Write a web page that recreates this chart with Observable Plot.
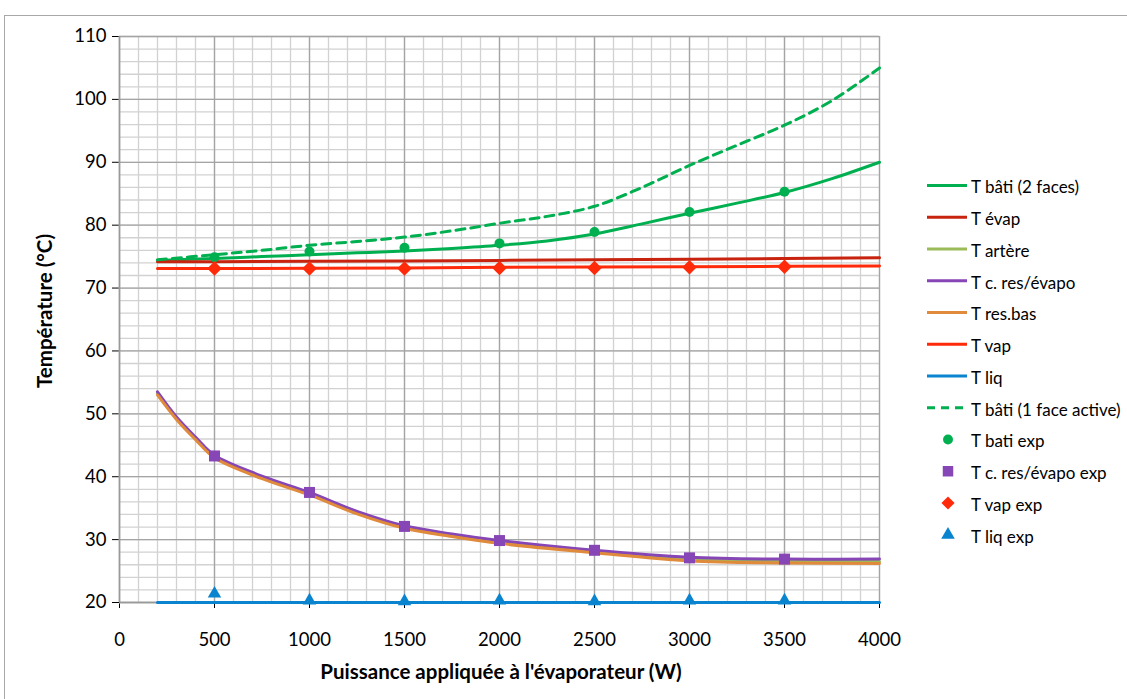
<!DOCTYPE html>
<html>
<head>
<meta charset="utf-8">
<script src="https://cdn.jsdelivr.net/npm/d3@7"></script>
<script src="https://cdn.jsdelivr.net/npm/@observablehq/plot@0.6"></script>
<style>
  html, body { margin: 0; padding: 0; background: #fff; overflow: hidden; }
  #wrap { position: relative; width: 1127px; height: 699px; font-family: Lato, "Open Sans", sans-serif; }
  #frame { position: absolute; left: 4px; top: 15px; width: 1200px; height: 800px; border: 1.5px solid #a8a8a8; pointer-events: none; }
  #chart { position: absolute; left: 0; top: 0; }
  #legend { position: absolute; left: 0; top: 0; pointer-events: none; }
  .ytitle { position: absolute; left: 44px; top: 311px; transform: translate(-50%, -50%) rotate(-90deg); font-weight: bold; font-size: 20.5px; white-space: nowrap; line-height: 1; }
  .xtitle { position: absolute; left: 501px; top: 671px; transform: translate(-50%, -50%); font-weight: bold; font-size: 20.5px; white-space: nowrap; line-height: 1; }
</style>
</head>
<body>
<div id="wrap">
  <div id="chart"></div>
  <svg id="legend" width="1127" height="699"></svg>
  <div class="ytitle">Température (°C)</div>
  <div class="xtitle">Puissance appliquée à l'évaporateur (W)</div>
  <div id="frame"></div>
</div>
<script>
// ---- Data ----
const xTicks = [0, 500, 1000, 1500, 2000, 2500, 3000, 3500, 4000];
const yTicks = [20, 30, 40, 50, 60, 70, 80, 90, 100, 110];

// bâti model curves
const powerBati = [200, 500, 750, 1000, 1250, 1500, 1750, 2000, 2250, 2500, 2750, 3000, 3250, 3500, 3750, 4000];
const tBati2 = [74.4, 74.7, 75.0, 75.3, 75.6, 75.9, 76.3, 76.8, 77.5, 78.6, 80.2, 81.9, 83.5, 85.2, 87.4, 90.0];
const tBati1 = [74.5, 75.3, 76.0, 76.8, 77.4, 78.1, 79.1, 80.3, 81.4, 83.0, 86.0, 89.5, 92.7, 95.9, 99.8, 105.0];

// flat model curves
const powerFlat = [200, 500, 1000, 1500, 2000, 2500, 3000, 3500, 4000];
const tEvap = [74.2, 74.2, 74.25, 74.3, 74.4, 74.5, 74.6, 74.7, 74.8];
const tVap = [73.1, 73.1, 73.15, 73.2, 73.3, 73.35, 73.4, 73.45, 73.5];
const tLiq = [20.0, 20.0, 20.0, 20.0, 20.0, 20.0, 20.0, 20.0, 20.0];

// lower model curves
const powerLow = [200, 300, 400, 500, 750, 1000, 1250, 1500, 1750, 2000, 2500, 3000, 3500, 4000];
const tCres = [53.5, 49.5, 46.3, 43.4, 40.1, 37.5, 34.5, 32.2, 30.9, 29.85, 28.3, 27.2, 26.9, 26.9];
const tArtere = [53.2, 49.3, 46.1, 43.2, 39.9, 37.3, 34.3, 32.0, 30.7, 29.6, 28.1, 26.9, 26.6, 26.5];
const tResBas = [53.0, 49.1, 45.9, 43.0, 39.7, 37.1, 34.1, 31.8, 30.5, 29.4, 27.9, 26.6, 26.3, 26.2];

// experimental points
const powerExp = [500, 1000, 1500, 2000, 2500, 3000, 3500];
const batiExp = [74.9, 75.8, 76.4, 77.1, 78.9, 82.1, 85.3];
const cresExp = [43.3, 37.5, 32.1, 29.85, 28.3, 27.1, 26.9];
const vapExp = [73.1, 73.1, 73.1, 73.2, 73.2, 73.3, 73.4];
const liqExp = [21.4, 20.3, 20.2, 20.3, 20.2, 20.3, 20.3];

const C = {
  bati: "#00b050", evap: "#c8230f", artere: "#9bbb59", cres: "#8646b6",
  resbas: "#e08a3c", vap: "#ff2a0a", liq: "#0a84cf"
};

// ---- Build tables ----
const toRows = (xs, ys) => xs.map((x, i) => ({x, y: ys[i]}));
const minorX = d3.range(0, 4001, 100);
const minorY = d3.range(20, 110.001, 2);

const lineOpts = (color, extra = {}) => Object.assign({x: "x", y: "y", stroke: color, strokeWidth: 3, curve: "catmull-rom"}, extra);

const chart = Plot.plot({
  width: 1127,
  height: 699,
  marginLeft: 119,
  marginRight: 248,
  marginTop: 36,
  marginBottom: 97,
  style: {fontFamily: "Lato, 'Open Sans', sans-serif", fontSize: "18.5px", color: "#000", background: "transparent", overflow: "visible"},
  x: {domain: [0, 4000], ticks: xTicks, tickFormat: d => String(d), tickSize: 6, tickPadding: 24, label: null},
  y: {domain: [20, 110], ticks: yTicks, tickSize: 7, tickPadding: 6, label: null},
  marks: [
    Plot.ruleX(minorX, {stroke: "#d2d2d2", strokeWidth: 1.3}),
    Plot.ruleY(minorY, {stroke: "#d2d2d2", strokeWidth: 1.3}),
    Plot.ruleX(xTicks, {stroke: "#a4a4a4", strokeWidth: 1.3}),
    Plot.ruleY(yTicks, {stroke: "#a4a4a4", strokeWidth: 1.3}),
    Plot.ruleX([0], {stroke: "#999", strokeWidth: 1.5}),
    Plot.ruleY([20], {stroke: "#999", strokeWidth: 1.5}),
    Plot.line(toRows(powerBati, tBati2), lineOpts(C.bati)),
    Plot.line(toRows(powerFlat, tEvap), lineOpts(C.evap, {curve: "linear"})),
    Plot.line(toRows(powerLow, tArtere), lineOpts(C.artere)),
    Plot.line(toRows(powerLow, tCres), lineOpts(C.cres)),
    Plot.line(toRows(powerLow, tResBas), lineOpts(C.resbas)),
    Plot.line(toRows(powerFlat, tVap), lineOpts(C.vap, {curve: "linear"})),
    Plot.line(toRows(powerFlat, tLiq), lineOpts(C.liq, {curve: "linear"})),
    Plot.line(toRows(powerBati, tBati1), lineOpts(C.bati, {strokeDasharray: "9,6"})),
    Plot.dot(toRows(powerExp, batiExp), {x: "x", y: "y", r: 5, symbol: "circle", fill: C.bati}),
    Plot.dot(toRows(powerExp, cresExp), {x: "x", y: "y", r: 6.2, symbol: "square", fill: C.cres}),
    Plot.dot(toRows(powerExp, vapExp), {x: "x", y: "y", r: 6.5, symbol: "diamond2", fill: C.vap}),
    Plot.dot(toRows(powerExp, liqExp), {x: "x", y: "y", r: 5, symbol: "triangle", fill: C.liq})
  ]
});
document.getElementById("chart").appendChild(chart);

// ---- Legend ----
const legendItems = [
  {label: "T bâti (2 faces)", type: "line", color: C.bati},
  {label: "T évap", type: "line", color: C.evap},
  {label: "T artère", type: "line", color: C.artere},
  {label: "T c. res/évapo", type: "line", color: C.cres},
  {label: "T res.bas", type: "line", color: C.resbas},
  {label: "T vap", type: "line", color: C.vap},
  {label: "T liq", type: "line", color: C.liq},
  {label: "T bâti (1 face active)", type: "dash", color: C.bati},
  {label: "T bati exp", type: d3.symbolCircle, color: C.bati, size: 78},
  {label: "T c. res/évapo exp", type: d3.symbolSquare, color: C.cres, size: 110},
  {label: "T vap exp", type: d3.symbolDiamond2, color: C.vap, size: 110},
  {label: "T liq exp", type: d3.symbolTriangle, color: C.liq, size: 80}
];
const lg = d3.select("#legend");
legendItems.forEach((it, i) => {
  const cy = 185.5 + i * 31.75;
  if (it.type === "line" || it.type === "dash") {
    lg.append("line").attr("x1", 927).attr("x2", 967).attr("y1", cy).attr("y2", cy)
      .attr("stroke", it.color).attr("stroke-width", 3)
      .attr("stroke-dasharray", it.type === "dash" ? "8,6" : null);
  } else {
    lg.append("path").attr("d", d3.symbol(it.type, it.size)())
      .attr("transform", `translate(948,${cy})`).attr("fill", it.color);
  }
  lg.append("text").attr("x", 971).attr("y", cy + 2).attr("dy", "0.35em")
    .attr("font-family", "Lato, 'Open Sans', sans-serif").attr("font-size", 17)
    .attr("fill", "#000").text(it.label);
});
</script>
</body>
</html>
